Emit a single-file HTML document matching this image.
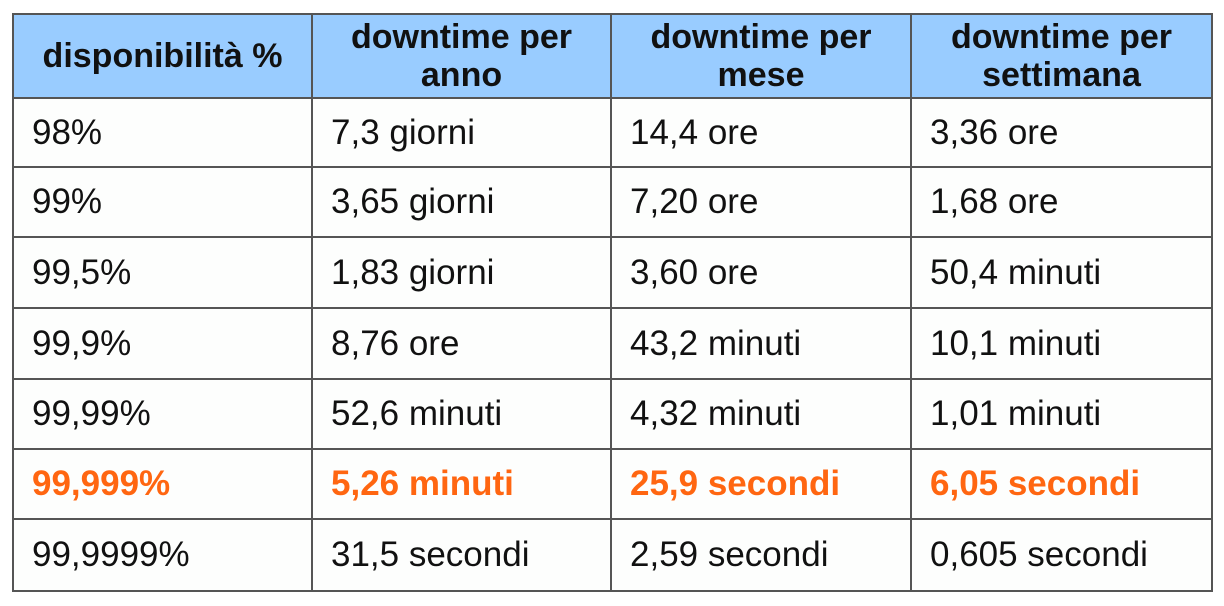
<!DOCTYPE html>
<html><head><meta charset="utf-8"><style>
body{margin:0;width:1224px;height:606px;background:#fff;overflow:hidden;font-family:"Liberation Sans",Arial,sans-serif;}
.c{position:absolute;box-sizing:border-box;border-right:2px solid #555;border-bottom:2px solid #555;font-size:35px;color:#111;background:#fdfefd;display:flex;align-items:center;padding-left:18px;white-space:nowrap;}
.c.first{border-left:2px solid #555;}
.h{background:#99ccff;font-weight:bold;font-size:34px;justify-content:center;text-align:center;padding-left:0;line-height:38px;border-top:2px solid #555;}
.o{color:#ff6611;font-weight:bold;}
</style></head><body>
<script>
const headers=["disponibilità %","downtime per<br>anno","downtime per<br>mese","downtime per<br>settimana"];
const rows=[
["98%","7,3 giorni","14,4 ore","3,36 ore"],
["99%","3,65 giorni","7,20 ore","1,68 ore"],
["99,5%","1,83 giorni","3,60 ore","50,4 minuti"],
["99,9%","8,76 ore","43,2 minuti","10,1 minuti"],
["99,99%","52,6 minuti","4,32 minuti","1,01 minuti"],
["99,999%","5,26 minuti","25,9 secondi","6,05 secondi"],
["99,9999%","31,5 secondi","2,59 secondi","0,605 secondi"]];
const highlight=5;
const xs=[12,313,612,912,1213];
const ys=[13,99,168,238,309,380,450,520,592];
function cell(x0,x1,y0,y1,html,cls){
 const d=document.createElement('div');
 d.className='c '+cls;
 d.style.left=x0+'px';d.style.top=y0+'px';d.style.width=(x1-x0)+'px';d.style.height=(y1-y0)+'px';
 d.innerHTML=html;
 document.body.appendChild(d);
 return d;
}
headers.forEach((h,i)=>{
 const d=cell(xs[i],xs[i+1],ys[0],ys[1],h,'h'+(i===0?' first':''));
 
 
});
rows.forEach((r,ri)=>{
 r.forEach((v,ci)=>{
  const d=cell(xs[ci],xs[ci+1],ys[ri+1],ys[ri+2],v,(ri===highlight?'o':'')+(ci===0?' first':''));
  
  
 });
});
</script>
</body></html>
